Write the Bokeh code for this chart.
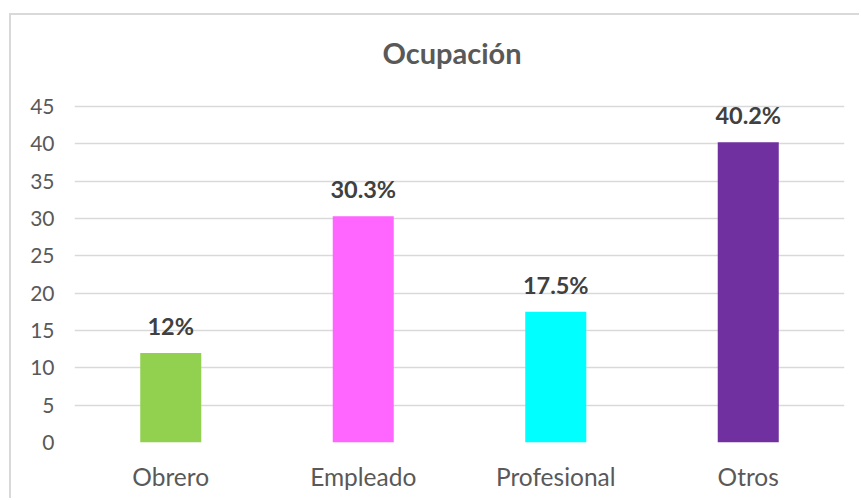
from bokeh.plotting import figure
from bokeh.models import ColumnDataSource, Range1d, FixedTicker
from bokeh.core.properties import value
from bokeh.embed import file_html
from bokeh.resources import INLINE

categories = ["Obrero", "Empleado", "Profesional", "Otros"]
values = [12, 30.3, 17.5, 40.2]
labels = ["12%", "30.3%", "17.5%", "40.2%"]
colors = ["#92D050", "#FF66FF", "#00FFFF", "#7030A0"]
y_ticks = [0, 5, 10, 15, 20, 25, 30, 35, 40, 45]
title_text = "Ocupación"

FONT = "Lato"

# pixel geometry (canvas coordinates)
FRAME_TOP = 5          # top of drawing frame (title lives inside the frame area)
AXIS_TOP_PX = 91       # where the 45 gridline should be
FRAME_BOTTOM = 427
px_per_unit = (FRAME_BOTTOM - AXIS_TOP_PX) / y_ticks[-1]
y_max = y_ticks[-1] + (AXIS_TOP_PX - FRAME_TOP) / px_per_unit

src = ColumnDataSource(dict(cat=categories, val=values, lab=labels, col=colors))

p = figure(
    x_range=categories,
    y_range=Range1d(0, y_max),
    width=850, height=485,
    output_backend="svg", toolbar_location=None,
    min_border_left=63, min_border_right=17, min_border_top=FRAME_TOP, min_border_bottom=58,
)
p.styles = {"border-top": "2px solid #d9d9d9", "border-left": "2px solid #d9d9d9",
            "margin-top": "13px", "margin-left": "9px"}
p.outline_line_color = None
p.background_fill_color = "white"
p.border_fill_color = "white"

# chart title (centered between the 2nd and 3rd category, above the 45 line)
p.text(x=[categories[1]], y=[y_ticks[-1]], text=[title_text], x_offset=88.75, y_offset=-54,
       text_align="center", text_baseline="middle", text_font=value(FONT),
       text_font_size="29px", text_font_style="bold", text_color="#595959")

p.vbar(x="cat", top="val", width=0.317, color="col", line_color=None, source=src)
p.text(x="cat", y="val", text="lab", source=src, text_align="center",
       text_baseline="alphabetic", y_offset=-27, text_font=value(FONT),
       text_font_size="23.5px", text_font_style="bold", text_color="#404040")

p.xgrid.grid_line_color = None
p.ygrid.grid_line_color = "#d9d9d9"
p.ygrid.grid_line_width = 1.5
p.yaxis.ticker = FixedTicker(ticks=y_ticks)

for ax in (p.xaxis[0], p.yaxis[0]):
    ax.axis_line_color = None
    ax.major_tick_line_color = None
    ax.minor_tick_line_color = None
    ax.major_label_text_font = FONT
    ax.major_label_text_color = "#595959"
p.yaxis.major_label_text_font_size = "21px"
p.xaxis.major_label_text_font_size = "24.5px"
p.yaxis.major_label_standoff = 14
p.xaxis.major_label_standoff = 13

open("out.html", "w").write(file_html(p, INLINE))
